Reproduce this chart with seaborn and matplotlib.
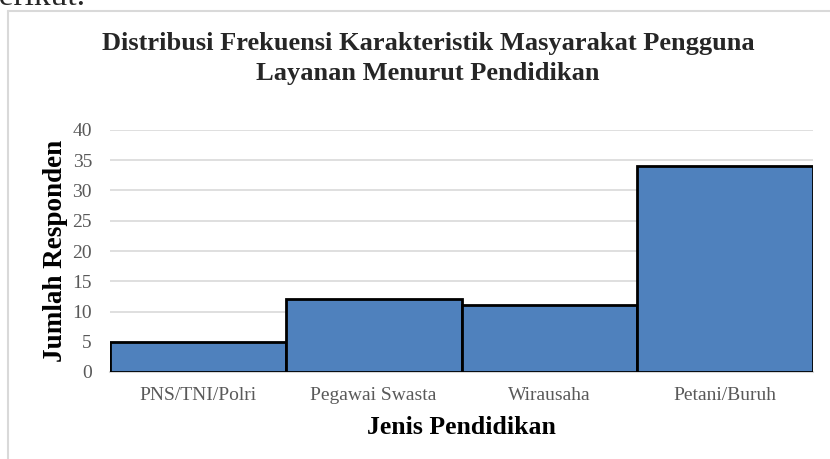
import matplotlib
matplotlib.use('Agg')
import matplotlib.pyplot as plt
import seaborn as sns
import pandas as pd
from matplotlib.lines import Line2D

# data
kategori = ['PNS/TNI/Polri', 'Pegawai Swasta', 'Wirausaha', 'Petani/Buruh']
jumlah = [5, 12, 11, 34]
yticks = [0, 5, 10, 15, 20, 25, 30, 35, 40]

df = pd.DataFrame({'Jenis': kategori, 'Jumlah': jumlah})

sns.set_style('white')
plt.rcParams['font.family'] = ['Liberation Serif', 'DejaVu Serif']

fig = plt.figure(figsize=(8.3, 4.59), dpi=100)
ax = fig.add_axes([110/830, 87/459, 703/830, 242/459])

sns.barplot(data=df, x='Jenis', y='Jumlah', color='#4F81BD', width=1.0,
            edgecolor='black', linewidth=2, saturation=1, ax=ax, zorder=3)

ax.set_ylim(0, 40)
ax.set_yticks(yticks)
ax.set_xlim(-0.5, 3.5)
ax.yaxis.grid(True, color='#D9D9D9', linewidth=1.2, zorder=0)
ax.xaxis.grid(False)
for s in ['top', 'right', 'left']:
    ax.spines[s].set_visible(False)
ax.spines['bottom'].set_color('#D9D9D9')
ax.spines['bottom'].set_linewidth(1.5)
ax.tick_params(axis='both', length=0, colors='#595959', labelsize=14)
ax.tick_params(axis='x', pad=11)
ax.tick_params(axis='y', pad=13)

ax.set_xlabel('Jenis Pendidikan', fontsize=18.5, fontweight='bold', color='black')
ax.xaxis.set_label_coords(0.5, -0.18)
ax.set_ylabel('Jumlah Responden', fontsize=19.5, fontweight='bold', color='black', labelpad=3)

# title, two lines
fig.text(428/830, 1 - 50/459, 'Distribusi Frekuensi Karakteristik Masyarakat Pengguna',
         ha='center', va='baseline', fontsize=19, fontweight='bold')
fig.text(428/830, 1 - 80/459, 'Layanan Menurut Pendidikan',
         ha='center', va='baseline', fontsize=19, fontweight='bold')

# frame of the chart in the document
fig.add_artist(Line2D([8/830, 8/830], [0, 1 - 11/459], color='#D9D9D9', linewidth=1.5))
fig.add_artist(Line2D([8/830, 1], [1 - 11/459, 1 - 11/459], color='#D9D9D9', linewidth=1.5))
# cut-off text from the document above
fig.text(-17/830, 1 - 5/459, 'berikut.', fontsize=24, va='baseline', ha='left')

fig.savefig('out.png', dpi=100)
